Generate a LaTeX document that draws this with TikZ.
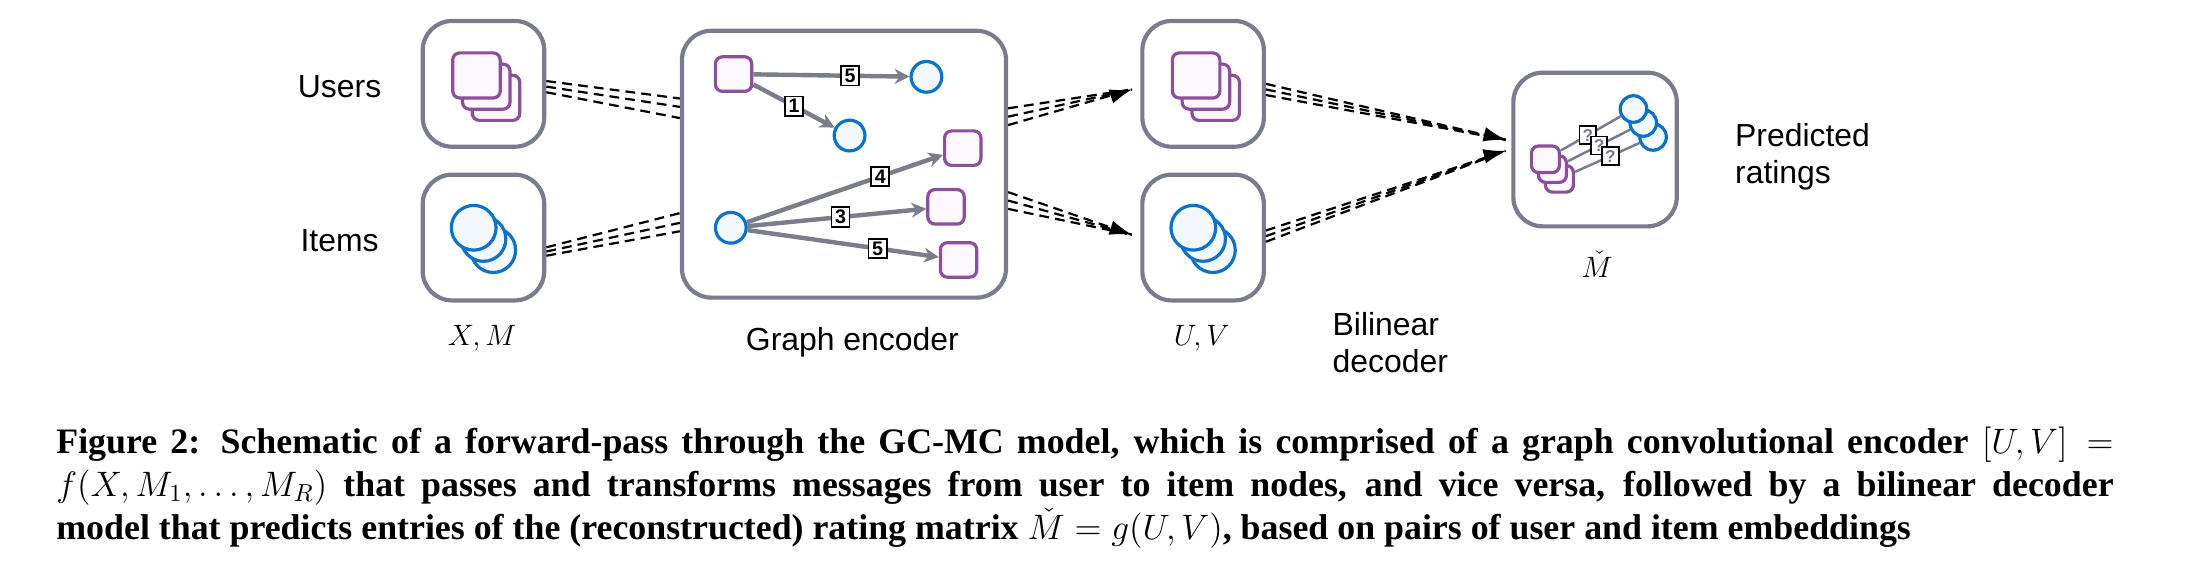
\documentclass[tikz,border=0pt]{standalone}
\usepackage{fontspec}
\setmainfont{Liberation Serif}
\newfontfamily\sansf{Liberation Sans}
\usepackage{amsmath}
\usetikzlibrary{arrows.meta,calc}
\definecolor{bxg}{HTML}{787C8C}
\definecolor{pur}{HTML}{8B4F9B}
\definecolor{purf}{HTML}{FDF8FD}
\definecolor{blu}{HTML}{0B72C7}
\definecolor{bluf}{HTML}{F3F7FE}
\definecolor{edg}{HTML}{7A7D8A}
\begin{document}
\begin{tikzpicture}[x=0.02cm,y=-0.02cm,
  box/.style={draw=bxg,line width=1.7pt,rounded corners=0.42cm,fill=white},
  usr/.style={draw=pur,fill=purf,line width=1.3pt,rounded corners=0.1cm,minimum width=#1*0.02cm,minimum height=#1*0.019cm,inner sep=0pt},
  usr/.default=34,
  itm/.style={draw=blu,fill=bluf,line width=1.3pt,circle,minimum size=#1*0.02cm,inner sep=0pt},
  itm/.default=32,
  lbl/.style={font=\sansf\fontsize{13}{15}\selectfont},
  num/.style={draw=black,fill=white,line width=0.7pt,inner sep=1.2pt,minimum size=0.26cm,font=\sansf\bfseries\fontsize{8}{9}\selectfont},
  qn/.style={num,font=\sansf\bfseries\fontsize{7}{8}\selectfont,minimum size=0.22cm},
  ge/.style={draw=edg,line width=1.8pt,-{Stealth[length=6pt,width=6pt]}},
  da/.style={line width=0.9pt,dash pattern=on 4pt off 2.5pt},
  tip/.style={-{Latex[length=9pt,width=6pt]}}]
\useasboundingbox (0,0) rectangle (1568,413);
% input boxes
\node[box,minimum width=1.74cm,minimum height=1.8cm] (ub) at (346,60) {};
\node[box,minimum width=1.74cm,minimum height=1.8cm] (ib) at (346,170) {};
\node[lbl] (tu) at (243,62) {Users};
\node[lbl] (ti) at (243,172) {Items};
\node (xm) at (345,242) {\fontsize{13}{15}\selectfont $X,M$};
\foreach \n/\x/\y in {a/355/70,b/348/62,c/341/54}{\node[usr] (ux\n) at (\x,\y) {};}
\foreach \n/\x/\y in {a/353/179,b/346/171,c/339/163}{\node[itm] (ix\n) at (\x,\y) {};}
% encoder
\node[box,minimum width=4.64cm,minimum height=3.82cm] (enc) at (604,117.5) {};
\node[lbl] (tenc) at (610,245) {Graph encoder};
\node[usr=26] (e1) at (525,53) {};
\node[itm=22] (e2) at (663,55) {};
\node[itm=22] (e3) at (608,97) {};
\node[itm=22] (e4) at (523,163) {};
\node[usr=26] (e5) at (689,106) {};
\node[usr=26] (e6) at (677,148) {};
\node[usr=26] (e7) at (686,186) {};
\draw[ge] (e1) -- node[num,pos=0.62]{5} (e2);
\draw[ge] (e1) -- node[num,pos=0.5]{1} (e3);
\draw[ge] (e4) -- node[num,pos=0.68]{4} (e5);
\draw[ge] (e4) -- node[num,pos=0.52]{3} (e6);
\draw[ge] (e4) -- node[num,pos=0.68]{5} (e7);
% U V boxes
\node[box,minimum width=1.74cm,minimum height=1.8cm] (uvbox) at (861,60) {};
\node[box,minimum width=1.74cm,minimum height=1.8cm] (vvbox) at (861,170) {};
\node (uv) at (860,242) {\fontsize{13}{15}\selectfont $U,V$};
\foreach \n/\x/\y in {a/870/70,b/863/62,c/856/54}{\node[usr] (uu\n) at (\x,\y) {};}
\foreach \n/\x/\y in {a/868/179,b/861/171,c/854/163}{\node[itm] (vv\n) at (\x,\y) {};}
% output box
\node[box,minimum width=2.34cm,minimum height=2.2cm] (ob) at (1141.5,107) {};
\node (mc) at (1143,189) {\fontsize{13}{15}\selectfont $\check{M}$};
\node[lbl,align=left] (pr) at (1290,112) {Predicted\\ratings};
\node[lbl,align=left] (bd) at (995,245) {Bilinear\\decoder};
\foreach \n/\x/\y in {a/1116/128,b/1111/121,c/1106/114}{\node[usr=20] (mu\n) at (\x,\y) {};}
\foreach \n/\x/\y in {a/1183/98,b/1176/88,c/1169/78}{\node[itm=19] (mi\n) at (\x,\y) {};}
\draw[bxg,line width=1pt] (muc) -- node[qn,pos=0.45]{?} (mic);
\draw[bxg,line width=1pt] (mub) -- node[qn,pos=0.5]{?} (mib);
\draw[bxg,line width=1pt] (mua) -- node[qn,pos=0.55]{?} (mia);
% dashed connectors
\foreach \a/\b in {-2/-2,2/4,6/12}{\draw[da] ($(ub.east)+(0,\a)$) -- ($(enc.west)+(0,\b-45)$);}
\foreach \a/\b in {7/35,10/42,13/48}{\draw[da] ($(ib.east)+(0,\a)$) -- ($(enc.west)+(0,\b)$);}
\coordinate (t1) at ($(uvbox.west)+(-6,4)$);
\coordinate (t2) at ($(vvbox.west)+(-6,-2)$);
\foreach \a in {-40,-34,-28}{\draw[da] ($(enc.east)+(0,\a)$) -- (t1);}
\draw[tip] ($(t1)+(-6,2)$) -- (t1);
\foreach \a in {20,26,32}{\draw[da] ($(enc.east)+(0,\a)$) -- (t2);}
\draw[tip] ($(t2)+(-6,-2)$) -- (t2);
\coordinate (t3) at ($(ob.west)+(-4,-7)$);
\coordinate (t4) at ($(ob.west)+(-4,1)$);
\foreach \a in {0,4,8}{\draw[da] ($(uvbox.east)+(0,\a)$) -- (t3);}
\draw[tip] ($(t3)+(-8,-2)$) -- (t3);
\foreach \a in {-5,-1,3}{\draw[da] ($(vvbox.east)+(0,\a)$) -- (t4);}
\draw[tip] ($(t4)+(-8,2)$) -- (t4);
% caption
\node[anchor=north west,text width=838pt,align=justify,inner sep=0pt,font=\bfseries\fontsize{14.6}{17.6}\selectfont] (cap) at (40,305)
{Figure 2: Schematic of a forward-pass through the GC-MC model, which is comprised of a graph convolutional encoder $[U,V]=$\linebreak $f(X,M_1,\dots,M_R)$ that passes and transforms messages from user to item nodes, and vice versa, followed by a bilinear decoder\linebreak model that predicts entries of the (reconstructed) rating matrix $\check{M}=g(U,V)$, based on pairs of user and item embeddings};
\end{tikzpicture}
\end{document}
